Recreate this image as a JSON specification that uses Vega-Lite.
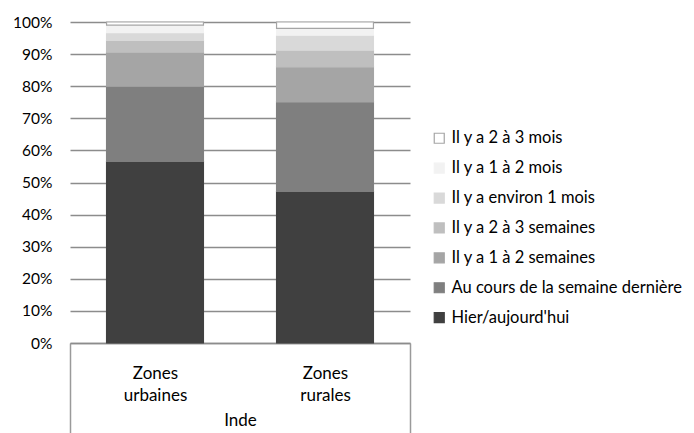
{
  "$schema": "https://vega.github.io/schema/vega-lite/v6.json",
  "autosize": {"type": "none"},
  "padding": {"left": 70, "top": 22, "right": 284, "bottom": 90},
  "width": 340,
  "height": 321,
  "background": "white",
  "config": {
    "view": {"stroke": null},
    "font": "Lato",
    "axis": {"labelFont": "Lato", "titleFont": "Lato", "labelColor": "#000000", "titleColor": "#000000"},
    "legend": {"labelFont": "Lato"}
  },
  "data": {
    "values": [
      {"zone": "Zones urbaines", "periode": "Hier/aujourd'hui", "k": 1, "pct": 56.6},
      {"zone": "Zones urbaines", "periode": "Au cours de la semaine dernière", "k": 2, "pct": 23.4},
      {"zone": "Zones urbaines", "periode": "Il y a 1 à 2 semaines", "k": 3, "pct": 10.6},
      {"zone": "Zones urbaines", "periode": "Il y a 2 à 3 semaines", "k": 4, "pct": 3.7},
      {"zone": "Zones urbaines", "periode": "Il y a environ 1 mois", "k": 5, "pct": 2.4},
      {"zone": "Zones urbaines", "periode": "Il y a 1 à 2 mois", "k": 6, "pct": 2.3},
      {"zone": "Zones urbaines", "periode": "Il y a 2 à 3 mois", "k": 7, "pct": 1.0},
      {"zone": "Zones rurales", "periode": "Hier/aujourd'hui", "k": 1, "pct": 47.2},
      {"zone": "Zones rurales", "periode": "Au cours de la semaine dernière", "k": 2, "pct": 27.9},
      {"zone": "Zones rurales", "periode": "Il y a 1 à 2 semaines", "k": 3, "pct": 10.9},
      {"zone": "Zones rurales", "periode": "Il y a 2 à 3 semaines", "k": 4, "pct": 5.2},
      {"zone": "Zones rurales", "periode": "Il y a environ 1 mois", "k": 5, "pct": 4.7},
      {"zone": "Zones rurales", "periode": "Il y a 1 à 2 mois", "k": 6, "pct": 2.1},
      {"zone": "Zones rurales", "periode": "Il y a 2 à 3 mois", "k": 7, "pct": 2.0}
    ]
  },
  "encoding": {
    "y": {
      "field": "pct",
      "type": "quantitative",
      "stack": "zero",
      "scale": {"domain": [0, 100]},
      "axis": {
        "title": null,
        "values": [0, 10, 20, 30, 40, 50, 60, 70, 80, 90, 100],
        "labelExpr": "datum.value + '%'",
        "labelFontSize": 15.5,
        "labelPadding": 18,
        "ticks": false,
        "domain": false,
        "grid": true,
        "gridColor": "#8c8c8c",
        "gridWidth": 1.3
      }
    },
    "order": {"field": "k", "type": "quantitative", "sort": "ascending"}
  },
  "layer": [
    {
      "mark": {"type": "bar", "strokeWidth": 1.2},
      "encoding": {
        "x": {
          "field": "zone",
          "type": "nominal",
          "sort": ["Zones urbaines", "Zones rurales"],
          "scale": {"paddingInner": 0.43, "paddingOuter": 0.215},
          "axis": {
            "orient": "bottom",
            "title": "Inde",
            "titleFontSize": 17,
            "titleFontWeight": "normal",
            "titleY": 77,
            "titleBaseline": "middle",
            "labelAngle": 0,
            "labelFontSize": 17,
            "labelExpr": "split(datum.label, ' ')",
            "labelLineHeight": 22,
            "labelBaseline": "top",
            "labelPadding": -68,
            "bandPosition": 0,
            "tickOffset": -36.55,
            "labelOffset": 36.55,
            "tickSize": 90,
            "tickWidth": 1.5,
            "tickColor": {"condition": {"test": "datum.value === 'Zones rurales'", "value": "transparent"}, "value": "#9a9a9a"},
            "domainColor": "#8c8c8c",
            "domainWidth": 1.5
          }
        },
        "color": {
          "field": "periode",
          "type": "nominal",
          "scale": {
            "domain": ["Il y a 2 à 3 mois", "Il y a 1 à 2 mois", "Il y a environ 1 mois", "Il y a 2 à 3 semaines", "Il y a 1 à 2 semaines", "Au cours de la semaine dernière", "Hier/aujourd'hui"],
            "range": ["#ffffff", "#f2f2f2", "#d9d9d9", "#bfbfbf", "#a5a5a5", "#7f7f7f", "#404040"]
          },
          "legend": {
            "title": null,
            "orient": "none",
            "legendX": 361,
            "legendY": 108,
            "symbolType": "square",
            "symbolSize": 100,
            "symbolStrokeWidth": 1.2,
            "labelFontSize": 16.5,
            "labelOffset": 4,
            "rowPadding": 12.9,
            "labelLimit": 330
          }
        },
        "stroke": {
          "field": "periode",
          "type": "nominal",
          "scale": {
            "domain": ["Il y a 2 à 3 mois", "Il y a 1 à 2 mois", "Il y a environ 1 mois", "Il y a 2 à 3 semaines", "Il y a 1 à 2 semaines", "Au cours de la semaine dernière", "Hier/aujourd'hui"],
            "range": ["#a5a5a5", "#f2f2f2", "#d9d9d9", "#bfbfbf", "#a5a5a5", "#7f7f7f", "#404040"]
          },
          "legend": {
            "title": null,
            "orient": "none",
            "legendX": 361,
            "legendY": 108,
            "symbolType": "square",
            "symbolSize": 100,
            "symbolStrokeWidth": 1.2,
            "labelFontSize": 16.5,
            "labelOffset": 4,
            "rowPadding": 12.9,
            "labelLimit": 330
          }
        }
      }
    },
    {
      "mark": {"type": "bar", "opacity": 0},
      "encoding": {
        "x": {
          "field": "zone",
          "type": "nominal",
          "sort": ["Zones urbaines", "Zones rurales"],
          "scale": {"paddingInner": 0.43, "paddingOuter": 0.215},
          "axis": {
            "orient": "bottom",
            "title": null,
            "labels": false,
            "domain": false,
            "bandPosition": 1,
            "tickOffset": 36.55,
            "tickSize": 90,
            "tickWidth": 1.5,
            "tickColor": {"condition": {"test": "datum.value === 'Zones urbaines'", "value": "transparent"}, "value": "#9a9a9a"}
          }
        }
      }
    }
  ],
  "resolve": {"axis": {"x": "independent"}}
}
